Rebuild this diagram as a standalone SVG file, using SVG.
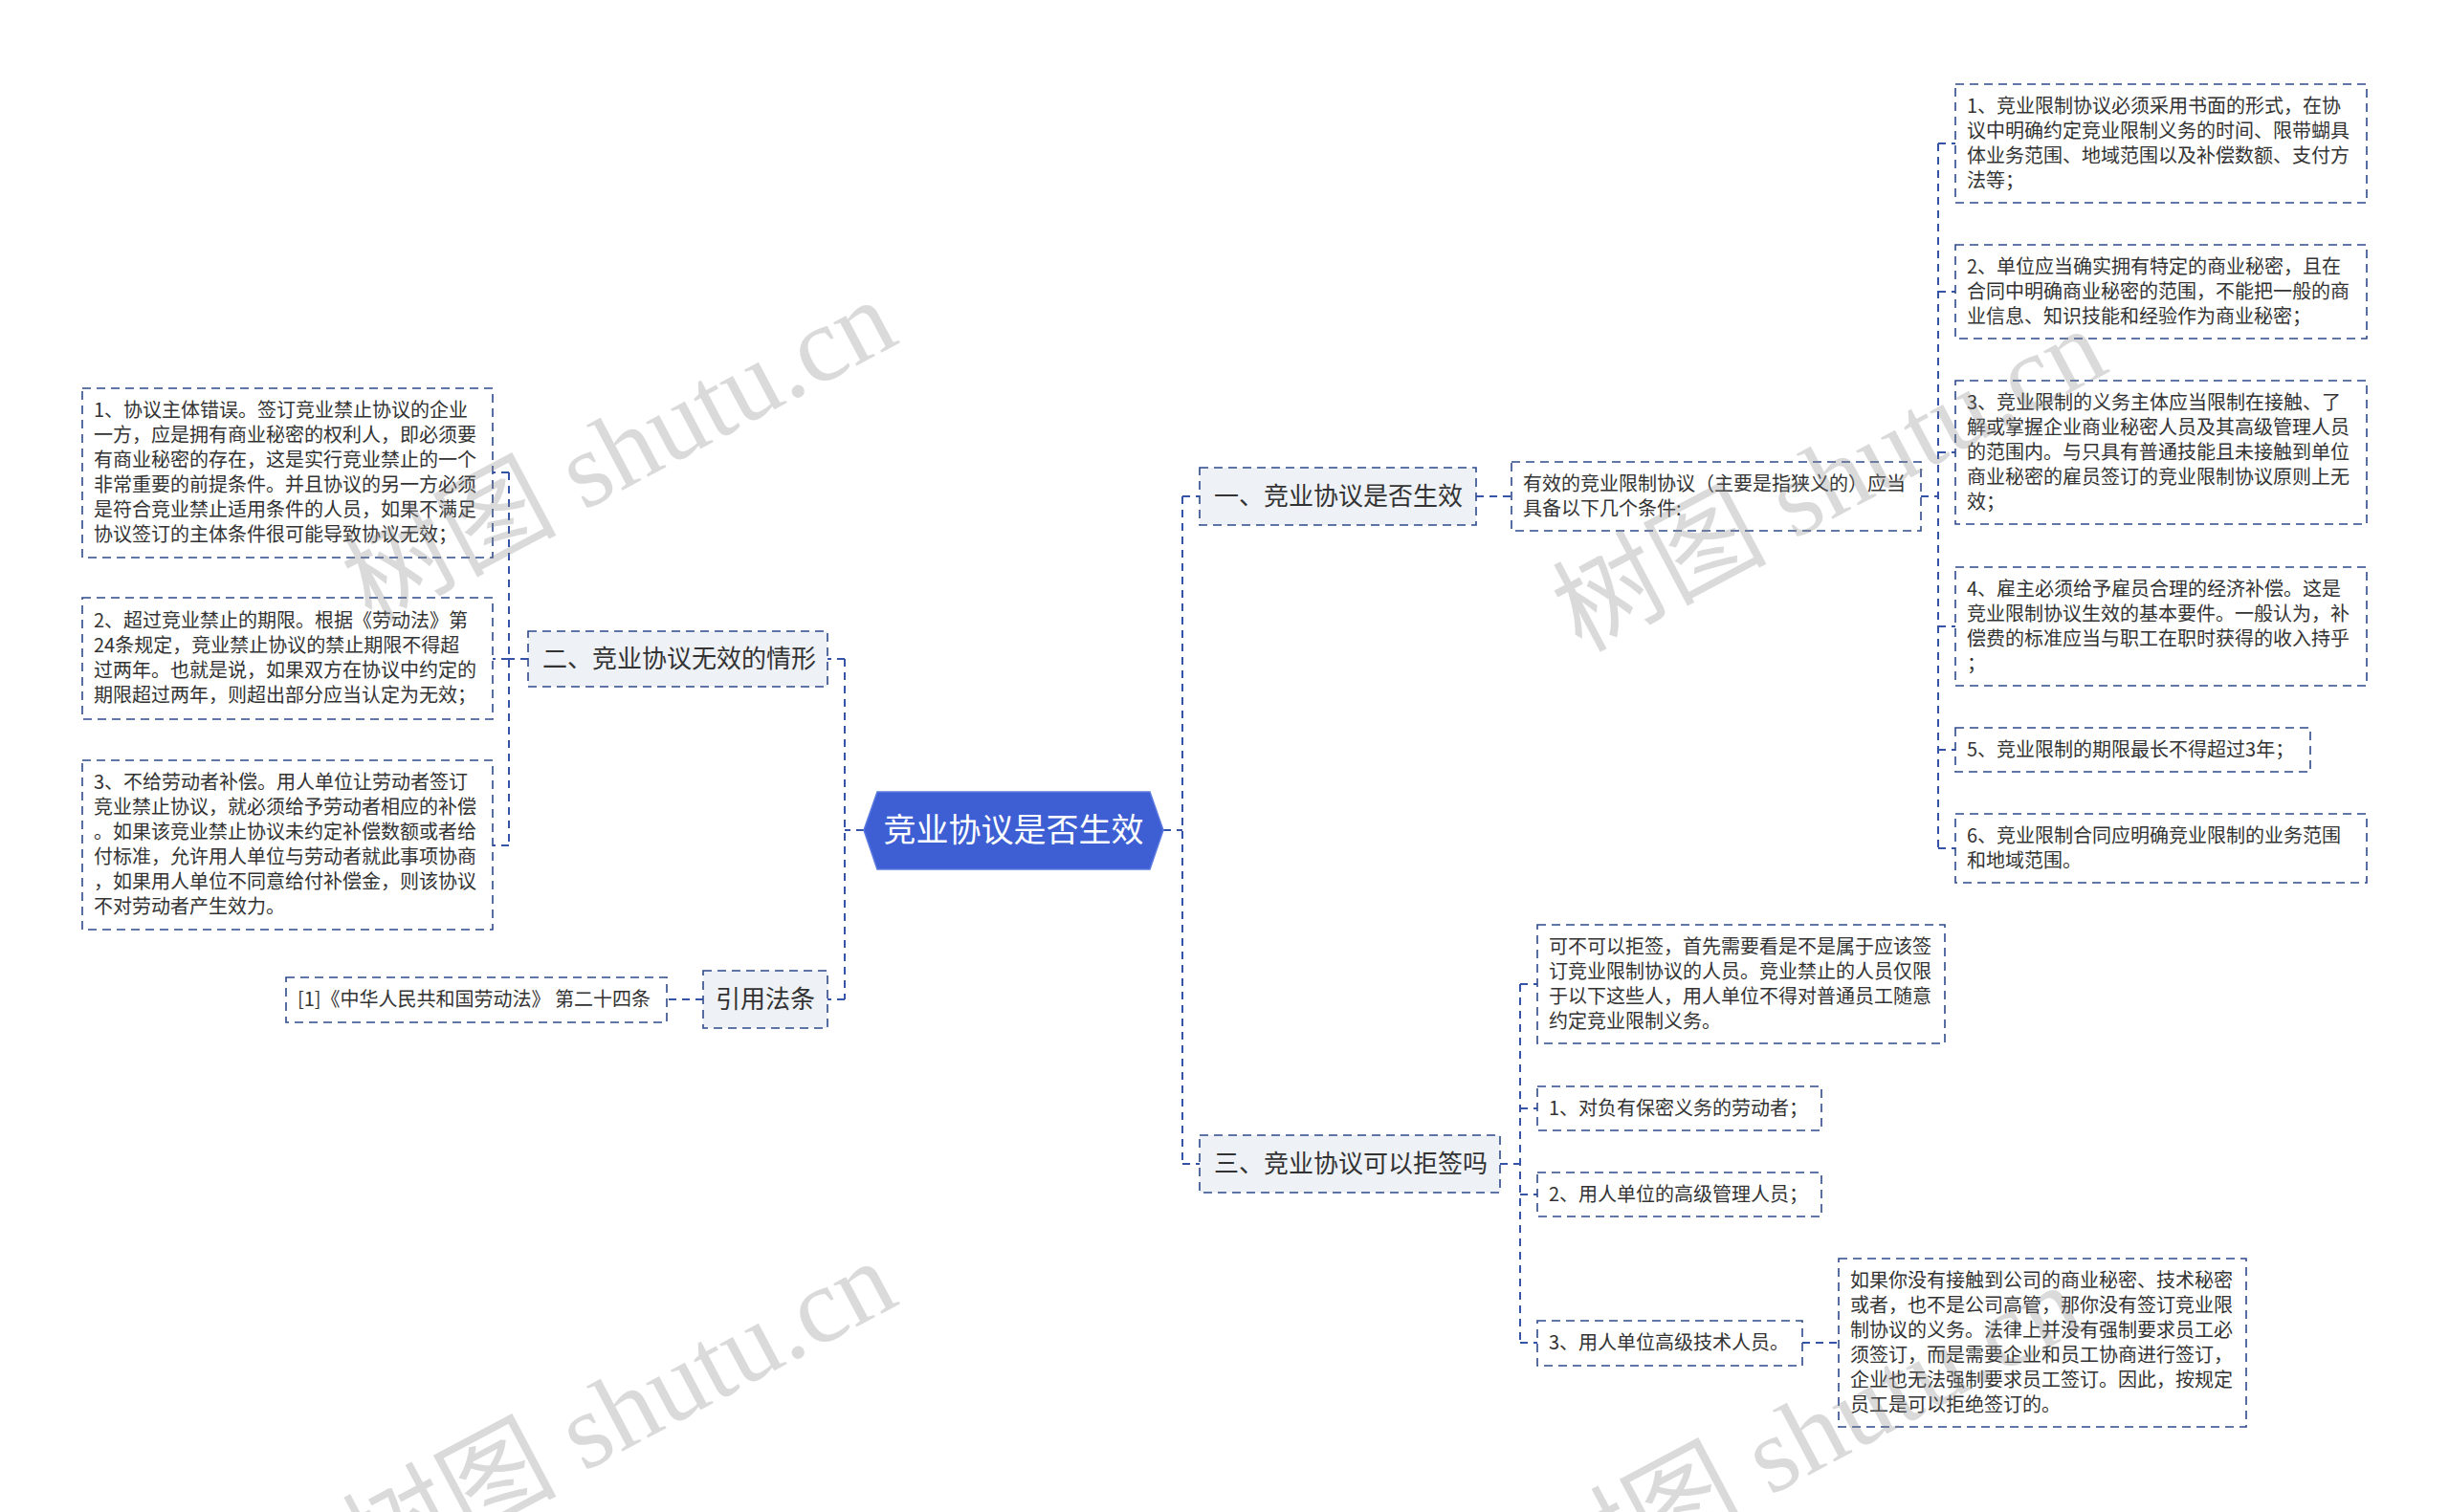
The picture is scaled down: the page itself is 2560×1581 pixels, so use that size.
<svg xmlns="http://www.w3.org/2000/svg" width="2560" height="1581" viewBox="0 0 2560 1581">
<style>
.bd{fill:#fff;stroke:#2E4A8C;stroke-width:1.6;stroke-dasharray:9 6}
.l1{fill:#EEF1F6;stroke:#2E4A8C;stroke-width:1.6;stroke-dasharray:9 6}
.t{font-family:"Noto Sans CJK SC","Noto Sans",sans-serif;font-size:20px;fill:#333}
.t1{font-family:"Noto Sans CJK SC","Noto Sans",sans-serif;font-size:26px;fill:#333}
.rt{font-family:"Noto Sans CJK SC","Noto Sans",sans-serif;font-size:34px;fill:#fff}
.cn{fill:none;stroke:#3554A8;stroke-width:2;stroke-dasharray:8 6}
.wm{font-family:"Liberation Serif","Noto Sans CJK SC",serif;font-size:112px;fill:#888;opacity:0.3}
</style>
<rect width="2560" height="1581" fill="#fff"/>
<g id="connectors">
<path class="cn" d="M903,868 H883 M883,689 V1045 M883,689 H865 M883,1045 H865"/>
<path class="cn" d="M552,689 H532 M532,494 V884 M532,494 H515 M532,689 H515 M532,884 H515"/>
<path class="cn" d="M735,1045 H697"/>
<path class="cn" d="M1216,868 H1236 M1236,519 V1217 M1236,519 H1254 M1236,1217 H1254"/>
<path class="cn" d="M1543,519 H1580"/>
<path class="cn" d="M2008,519 H2026 M2026,150 V887 M2026,150 H2044 M2026,305 H2044 M2026,473 H2044 M2026,655 H2044 M2026,784 H2044 M2026,887 H2044"/>
<path class="cn" d="M1568,1217 H1589 M1589,1029 V1404 M1589,1029 H1607 M1589,1159 H1607 M1589,1249 H1607 M1589,1404 H1607"/>
<path class="cn" d="M1884,1404 H1922"/>
</g>
<g id="root">
<polygon points="903,868 917,828 1202,828 1216,868 1202,909 917,909" fill="#3D5FD3" stroke="#5B79E0" stroke-width="1.5"/>
<text class="rt" x="1059.5" y="880" text-anchor="middle">竞业协议是否生效</text>
</g>
<g id="n2">
<rect class="l1" x="552" y="660" width="313" height="58"/>
<text class="t1" x="567" y="698">二、竞业协议无效的情形</text>
</g>
<g id="n2a">
<rect class="bd" x="86" y="406" width="429" height="177"/>
<text class="t" x="98" y="436">1、协议主体错误。签订竞业禁止协议的企业</text>
<text class="t" x="98" y="462">一方，应是拥有商业秘密的权利人，即必须要</text>
<text class="t" x="98" y="488">有商业秘密的存在，这是实行竞业禁止的一个</text>
<text class="t" x="98" y="514">非常重要的前提条件。并且协议的另一方必须</text>
<text class="t" x="98" y="540">是符合竞业禁止适用条件的人员，如果不满足</text>
<text class="t" x="98" y="566">协议签订的主体条件很可能导致协议无效；</text>
</g>
<g id="n2b">
<rect class="bd" x="86" y="625" width="429" height="127"/>
<text class="t" x="98" y="656">2、超过竞业禁止的期限。根据《劳动法》第</text>
<text class="t" x="98" y="682">24条规定，竞业禁止协议的禁止期限不得超</text>
<text class="t" x="98" y="708">过两年。也就是说，如果双方在协议中约定的</text>
<text class="t" x="98" y="734">期限超过两年，则超出部分应当认定为无效；</text>
</g>
<g id="n2c">
<rect class="bd" x="86" y="795" width="429" height="177"/>
<text class="t" x="98" y="825">3、不给劳动者补偿。用人单位让劳动者签订</text>
<text class="t" x="98" y="851">竞业禁止协议，就必须给予劳动者相应的补偿</text>
<text class="t" x="98" y="877">。如果该竞业禁止协议未约定补偿数额或者给</text>
<text class="t" x="98" y="903">付标准，允许用人单位与劳动者就此事项协商</text>
<text class="t" x="98" y="929">，如果用人单位不同意给付补偿金，则该协议</text>
<text class="t" x="98" y="955">不对劳动者产生效力。</text>
</g>
<g id="n4">
<rect class="l1" x="735" y="1015" width="130" height="60"/>
<text class="t1" x="800" y="1054" text-anchor="middle">引用法条</text>
</g>
<g id="n4a">
<rect class="bd" x="299" y="1022" width="398" height="47"/>
<text class="t" x="311" y="1052">[1]《中华人民共和国劳动法》 第二十四条</text>
</g>
<g id="n1">
<rect class="l1" x="1254" y="489" width="289" height="60"/>
<text class="t1" x="1269" y="528">一、竞业协议是否生效</text>
</g>
<g id="n1a">
<rect class="bd" x="1580" y="483" width="428" height="72"/>
<text class="t" x="1592" y="513">有效的竞业限制协议（主要是指狭义的）应当</text>
<text class="t" x="1592" y="539">具备以下几个条件:</text>
</g>
<g id="r1">
<rect class="bd" x="2044" y="88" width="430" height="124"/>
<text class="t" x="2056" y="118">1、竞业限制协议必须采用书面的形式，在协</text>
<text class="t" x="2056" y="144">议中明确约定竞业限制义务的时间、限带蝴具</text>
<text class="t" x="2056" y="170">体业务范围、地域范围以及补偿数额、支付方</text>
<text class="t" x="2056" y="196">法等；</text>
</g>
<g id="r2">
<rect class="bd" x="2044" y="256" width="430" height="98"/>
<text class="t" x="2056" y="286">2、单位应当确实拥有特定的商业秘密，且在</text>
<text class="t" x="2056" y="312">合同中明确商业秘密的范围，不能把一般的商</text>
<text class="t" x="2056" y="338">业信息、知识技能和经验作为商业秘密；</text>
</g>
<g id="r3">
<rect class="bd" x="2044" y="398" width="430" height="150"/>
<text class="t" x="2056" y="428">3、竞业限制的义务主体应当限制在接触、了</text>
<text class="t" x="2056" y="454">解或掌握企业商业秘密人员及其高级管理人员</text>
<text class="t" x="2056" y="480">的范围内。与只具有普通技能且未接触到单位</text>
<text class="t" x="2056" y="506">商业秘密的雇员签订的竞业限制协议原则上无</text>
<text class="t" x="2056" y="532">效；</text>
</g>
<g id="r4">
<rect class="bd" x="2044" y="593" width="430" height="124"/>
<text class="t" x="2056" y="623">4、雇主必须给予雇员合理的经济补偿。这是</text>
<text class="t" x="2056" y="649">竞业限制协议生效的基本要件。一般认为，补</text>
<text class="t" x="2056" y="675">偿费的标准应当与职工在职时获得的收入持乎</text>
<text class="t" x="2056" y="701">；</text>
</g>
<g id="r5">
<rect class="bd" x="2044" y="761" width="371" height="46"/>
<text class="t" x="2056" y="791">5、竞业限制的期限最长不得超过3年；</text>
</g>
<g id="r6">
<rect class="bd" x="2044" y="851" width="430" height="72"/>
<text class="t" x="2056" y="881">6、竞业限制合同应明确竞业限制的业务范围</text>
<text class="t" x="2056" y="907">和地域范围。</text>
</g>
<g id="n3">
<rect class="l1" x="1254" y="1187" width="314" height="60"/>
<text class="t1" x="1269" y="1226">三、竞业协议可以拒签吗</text>
</g>
<g id="c0">
<rect class="bd" x="1607" y="967" width="426" height="124"/>
<text class="t" x="1619" y="997">可不可以拒签，首先需要看是不是属于应该签</text>
<text class="t" x="1619" y="1023">订竞业限制协议的人员。竞业禁止的人员仅限</text>
<text class="t" x="1619" y="1049">于以下这些人，用人单位不得对普通员工随意</text>
<text class="t" x="1619" y="1075">约定竞业限制义务。</text>
</g>
<g id="c1">
<rect class="bd" x="1607" y="1136" width="297" height="46"/>
<text class="t" x="1619" y="1166">1、对负有保密义务的劳动者；</text>
</g>
<g id="c2">
<rect class="bd" x="1607" y="1226" width="297" height="46"/>
<text class="t" x="1619" y="1256">2、用人单位的高级管理人员；</text>
</g>
<g id="c3">
<rect class="bd" x="1607" y="1381" width="277" height="47"/>
<text class="t" x="1619" y="1411">3、用人单位高级技术人员。</text>
</g>
<g id="c3a">
<rect class="bd" x="1922" y="1316" width="426" height="176"/>
<text class="t" x="1934" y="1346">如果你没有接触到公司的商业秘密、技术秘密</text>
<text class="t" x="1934" y="1372">或者，也不是公司高管，那你没有签订竞业限</text>
<text class="t" x="1934" y="1398">制协议的义务。法律上并没有强制要求员工必</text>
<text class="t" x="1934" y="1424">须签订，而是需要企业和员工协商进行签订，</text>
<text class="t" x="1934" y="1450">企业也无法强制要求员工签订。因此，按规定</text>
<text class="t" x="1934" y="1476">员工是可以拒绝签订的。</text>
</g>
<g id="watermarks">
<text class="wm" x="665" y="505" text-anchor="middle" transform="rotate(-28 665 505)">树图 shutu.cn</text>
<text class="wm" x="1930" y="535" text-anchor="middle" transform="rotate(-28 1930 535)">树图 shutu.cn</text>
<text class="wm" x="665" y="1510" text-anchor="middle" transform="rotate(-28 665 1510)">树图 shutu.cn</text>
<text class="wm" x="1905" y="1535" text-anchor="middle" transform="rotate(-28 1905 1535)">树图 shutu.cn</text>
</g>
</svg>
